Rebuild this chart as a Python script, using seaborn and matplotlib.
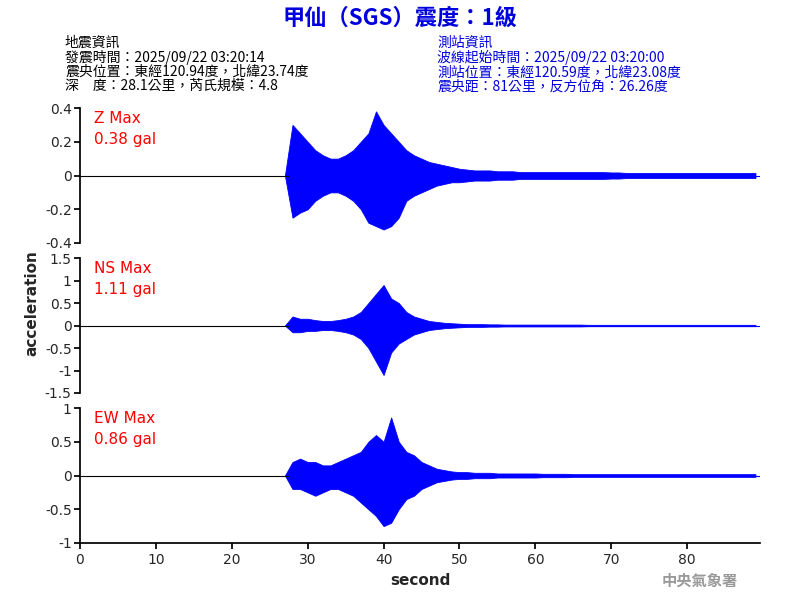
import matplotlib
matplotlib.use("Agg")
import matplotlib.pyplot as plt
import seaborn as sns
import numpy as np

sns.set_theme(style="white")
plt.rcParams['font.family'] = ['Noto Sans CJK TC', 'DejaVu Sans']

seconds = list(range(27, 90))
z_up = [0.0, 0.30, 0.25, 0.20, 0.15, 0.12, 0.10, 0.10, 0.12, 0.15, 0.20, 0.25, 0.38, 0.30, 0.25, 0.20, 0.15, 0.12, 0.10, 0.08, 0.07, 0.06, 0.05, 0.04,
        0.035, 0.03, 0.03, 0.03, 0.025, 0.025, 0.025, 0.02, 0.02, 0.02, 0.02, 0.02, 0.02, 0.02, 0.02, 0.02, 0.02, 0.02, 0.02, 0.018, 0.018,
        0.015, 0.015, 0.015, 0.015, 0.015, 0.015, 0.015, 0.015, 0.015, 0.015, 0.015, 0.015, 0.015, 0.015, 0.015, 0.015, 0.015, 0.015]
z_lo = [0.0, -0.25, -0.22, -0.20, -0.15, -0.12, -0.10, -0.10, -0.12, -0.15, -0.20, -0.28, -0.30, -0.32, -0.30, -0.25, -0.15, -0.12, -0.10, -0.08, -0.06, -0.05, -0.04, -0.04,
        -0.035, -0.03, -0.03, -0.03, -0.025, -0.025, -0.025, -0.02, -0.02, -0.02, -0.02, -0.02, -0.02, -0.02, -0.02, -0.02, -0.02, -0.02, -0.02, -0.018, -0.018,
        -0.015, -0.015, -0.015, -0.015, -0.015, -0.015, -0.015, -0.015, -0.015, -0.015, -0.015, -0.015, -0.015, -0.015, -0.015, -0.015, -0.015, -0.015]
ns_up = [0.0, 0.20, 0.15, 0.15, 0.12, 0.10, 0.10, 0.12, 0.15, 0.20, 0.30, 0.50, 0.70, 0.90, 0.60, 0.50, 0.30, 0.20, 0.15, 0.10, 0.08, 0.06, 0.05, 0.04,
         0.03, 0.03, 0.03, 0.025, 0.025, 0.02, 0.02, 0.02, 0.02, 0.02, 0.02, 0.02, 0.02, 0.02, 0.02, 0.02, 0.015, 0.015, 0.015, 0.015, 0.015,
         0.015, 0.015, 0.015, 0.015, 0.015, 0.015, 0.015, 0.015, 0.015, 0.015, 0.015, 0.015, 0.015, 0.015, 0.015, 0.015, 0.015, 0.015]
ns_lo = [0.0, -0.15, -0.15, -0.12, -0.12, -0.10, -0.10, -0.12, -0.15, -0.20, -0.30, -0.50, -0.80, -1.10, -0.60, -0.40, -0.30, -0.20, -0.15, -0.10, -0.08, -0.06, -0.05, -0.04,
         -0.03, -0.03, -0.03, -0.025, -0.025, -0.02, -0.02, -0.02, -0.02, -0.02, -0.02, -0.02, -0.02, -0.02, -0.02, -0.02, -0.015, -0.015, -0.015, -0.015, -0.015,
         -0.015, -0.015, -0.015, -0.015, -0.015, -0.015, -0.015, -0.015, -0.015, -0.015, -0.015, -0.015, -0.015, -0.015, -0.015, -0.015, -0.015, -0.015]
ew_up = [0.0, 0.20, 0.25, 0.20, 0.20, 0.15, 0.15, 0.20, 0.25, 0.30, 0.35, 0.50, 0.60, 0.50, 0.86, 0.50, 0.35, 0.30, 0.20, 0.15, 0.10, 0.08, 0.06, 0.05,
         0.05, 0.04, 0.04, 0.04, 0.03, 0.03, 0.03, 0.03, 0.03, 0.03, 0.025, 0.025, 0.025, 0.025, 0.02, 0.02, 0.02, 0.02, 0.02, 0.02, 0.02,
         0.02, 0.02, 0.02, 0.02, 0.02, 0.02, 0.02, 0.02, 0.02, 0.02, 0.02, 0.02, 0.02, 0.02, 0.02, 0.02, 0.02, 0.02]
ew_lo = [0.0, -0.20, -0.20, -0.25, -0.30, -0.25, -0.20, -0.20, -0.25, -0.30, -0.40, -0.50, -0.60, -0.75, -0.70, -0.50, -0.35, -0.30, -0.20, -0.15, -0.10, -0.08, -0.06, -0.05,
         -0.05, -0.04, -0.04, -0.04, -0.03, -0.03, -0.03, -0.03, -0.03, -0.03, -0.025, -0.025, -0.025, -0.025, -0.02, -0.02, -0.02, -0.02, -0.02, -0.02, -0.02,
         -0.02, -0.02, -0.02, -0.02, -0.02, -0.02, -0.02, -0.02, -0.02, -0.02, -0.02, -0.02, -0.02, -0.02, -0.02, -0.02, -0.02, -0.02]

panels = [("Z Max\n0.38 gal", z_up, z_lo, 0.4, [-0.4, -0.2, 0, 0.2, 0.4], ["-0.4", "-0.2", "0", "0.2", "0.4"]),
          ("NS Max\n1.11 gal", ns_up, ns_lo, 1.5, [-1.5, -1, -0.5, 0, 0.5, 1, 1.5], ["-1.5", "-1", "-0.5", "0", "0.5", "1", "1.5"]),
          ("EW Max\n0.86 gal", ew_up, ew_lo, 1.0, [-1, -0.5, 0, 0.5, 1], ["-1", "-0.5", "0", "0.5", "1"])]

fig = plt.figure(figsize=(8, 6), dpi=100)
tops = [108, 258, 408]
for i, (lab, up, lo, lim, ticks, tl) in enumerate(panels):
    ax = fig.add_axes([80/800, 1 - (tops[i]+135)/600, 680/800, 135/600])
    ax.plot([0, 27.5], [0, 0], color="black", lw=0.8)
    ax.fill_between(seconds, lo, up, color="blue", lw=0.6, edgecolor="blue")
    ax.plot([27.5, 89.6], [0, 0], color="blue", lw=0.8)
    ax.set_xlim(0, 89.6)
    ax.set_ylim(-lim, lim)
    ax.set_yticks(ticks)
    ax.set_yticklabels(tl, fontsize=10, fontfamily="DejaVu Sans")
    for s in ["top", "right"]:
        ax.spines[s].set_visible(False)
    ax.spines["left"].set_color("black")
    ax.tick_params(axis="y", left=True, length=4, color="black", pad=2)
    if i < 2:
        ax.spines["bottom"].set_visible(False)
        ax.set_xticks([])
    else:
        ax.spines["bottom"].set_color("black")
        ax.set_xticks(range(0, 90, 10))
        ax.set_xticklabels([str(v) for v in range(0, 90, 10)], fontsize=10, fontfamily="DejaVu Sans")
        ax.tick_params(axis="x", bottom=True, length=4, color="black")
        ax.set_xlabel("second", fontsize=11, fontweight="bold", fontfamily="DejaVu Sans", labelpad=4)
    ax.text(0.02, 0.98, lab, transform=ax.transAxes, color="red", fontsize=11,
            va="top", ha="left", fontfamily="DejaVu Sans", linespacing=1.5)

fig.text(32/800, 1 - 303/600, "acceleration", rotation=90, fontsize=11, fontweight="bold",
         fontfamily="DejaVu Sans", va="center", ha="center")
fig.text(0.5, 1 - 18/600, "甲仙（SGS）震度：1級", color="#0000dd", fontsize=16, fontweight="bold",
         ha="center", va="center")
left = "地震資訊\n發震時間：2025/09/22 03:20:14\n震央位置：東經120.94度，北緯23.74度\n深　度：28.1公里，芮氏規模：4.8"
right = "測站資訊\n波線起始時間：2025/09/22 03:20:00\n測站位置：東經120.59度，北緯23.08度\n震央距：81公里，反方位角：26.26度"
fig.text(65/800, 1 - 36/600, left, fontsize=10, va="top", ha="left", color="black", linespacing=1.0)
fig.text(437/800, 1 - 36/600, right, fontsize=10, va="top", ha="left", color="#0000dd", linespacing=1.0)
fig.text(700/800, 1 - 581/600, "中央氣象署", fontsize=11, color="#999999", ha="center", va="center", fontweight="bold")
fig.savefig("out.png", dpi=100)
